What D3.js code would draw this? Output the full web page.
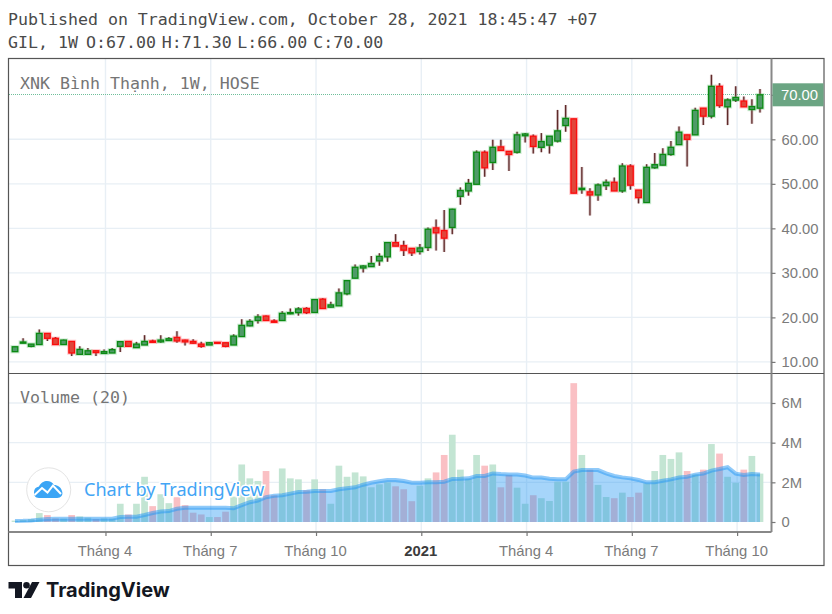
<!DOCTYPE html>
<html>
<head>
<meta charset="utf-8">
<script src="https://cdn.jsdelivr.net/npm/d3@7"></script>
<style>
  html, body { margin: 0; padding: 0; background: #fff; }
  svg { display: block; }
  .mono { font-family: "DejaVu Sans Mono", monospace; font-size: 16.6px; }
  .tick text { font-family: "Liberation Sans", Arial, sans-serif; }
</style>
</head>
<body>
<div id="chart"></div>
<script>
// weekly candles
var opens  = [12.3,14.2,13.5,13.9,16.4,15.3,13.9,14.6,11.7,11.7,12.5,11.9,12.0,13.5,14.6,13.2,13.8,14.7,14.5,14.8,15.5,14.9,14.6,14.0,13.8,14.4,14.3,13.8,15.7,18.1,19.3,20.3,19.2,19.3,20.8,21.06,22.0,21.1,24.1,22.3,22.6,25.3,28.8,31.1,31.4,32.7,33.6,36.8,36.1,35.5,34.8,35.7,40.1,39.5,40.2,47.2,48.4,49.9,57.1,54.8,58.3,57.3,57.1,60.8,60.7,58.2,58.7,59.6,63.1,64.6,48.7,48.2,47.5,49.6,50.35,48.4,54.0,48.6,45.8,53.6,54.2,56.6,58.8,61.0,61.0,67.0,65.2,71.9,67.3,68.8,68.6,66.7,67.0];
var highs  = [13.4,15.3,14.0,17.3,16.4,15.6,15.0,14.7,13.5,13.1,12.5,12.8,13.1,14.6,14.6,14.5,16.0,15.0,16.0,15.6,16.9,15.0,15.1,14.5,14.4,14.4,14.3,16.2,19.6,19.6,20.7,20.4,19.6,21.4,22.0,22.3,22.3,24.1,24.3,23.5,26.5,28.3,31.9,31.7,33.8,34.4,36.9,38.7,37.2,35.5,36.5,40.2,42.0,44.1,44.4,49.2,51.1,57.5,57.5,59.9,59.9,57.3,61.7,61.4,61.1,61.4,60.7,66.6,67.7,64.6,53.8,49.0,50.1,51.0,51.4,54.6,54.4,48.6,54.4,56.9,58.0,59.6,62.9,61.0,67.1,67.0,74.5,72.6,69.2,71.9,69.6,69.0,71.3];
var lows   = [12.3,14.2,13.3,13.9,14.7,13.9,13.9,11.3,11.6,11.6,11.3,11.9,12.0,12.2,13.4,13.2,13.8,14.3,14.3,14.8,14.3,13.7,14.1,13.2,13.8,14.2,13.3,13.8,15.7,18.0,18.6,19.3,18.9,19.3,20.7,20.4,20.75,21.1,21.9,22.2,22.6,25.0,28.8,30.1,31.4,31.6,32.5,36.0,33.8,33.8,34.1,34.9,35.0,34.7,38.7,45.3,47.35,49.9,51.6,53.1,57.5,52.9,56.8,59.3,56.8,57.1,56.8,59.3,61.7,47.9,47.8,42.9,46.2,48.6,48.4,48.0,48.7,45.6,45.8,53.4,54.2,56.3,58.8,53.9,61.0,63.2,64.7,67.1,63.2,68.4,67.3,63.5,66.0];
var closes = [13.4,14.47,14.0,16.4,15.3,13.9,14.9,12.0,12.8,12.5,12.1,12.3,12.75,14.55,13.5,14.0,14.6,14.4,14.9,15.2,14.7,14.5,14.2,13.5,14.3,14.2,13.5,15.8,18.2,19.1,20.1,19.3,18.9,20.9,21.06,21.9,21.06,24.0,22.0,22.8,25.5,28.25,31.25,31.55,32.1,33.7,36.8,36.0,35.1,34.5,35.6,39.8,39.0,37.8,44.3,48.5,50.1,57.1,53.6,58.2,57.5,56.6,61.0,61.2,58.4,59.5,60.7,61.9,64.7,47.9,49.0,47.5,49.75,50.35,48.4,54.0,49.7,46.9,53.7,54.3,56.6,58.2,61.6,60.0,66.5,65.2,71.9,67.6,68.85,69.4,67.3,67.35,70.0];
// volume in millions
var volumes = [0.07,0.1,0.15,0.45,0.35,0.18,0.17,0.35,0.28,0.22,0.15,0.18,0.17,0.92,0.38,0.92,2.28,0.8,1.4,0.95,1.25,0.85,0.47,0.38,0.25,0.25,0.52,1.28,2.9,2.2,2.07,2.57,1.35,2.7,2.2,2.15,1.6,2.15,1.65,0.92,2.84,2.28,2.5,2.3,1.75,1.9,2.0,1.8,1.65,1.05,1.83,2.2,2.5,3.38,4.4,2.64,2.18,3.38,2.84,2.9,1.75,2.37,1.73,0.92,1.35,1.2,1.06,2.03,2.03,7.0,3.38,2.64,1.87,1.26,1.2,1.48,1.26,1.48,1.95,2.57,3.38,3.18,3.51,2.57,2.4,2.64,3.93,3.45,2.28,1.98,2.64,3.33,2.44];
// Volume (20) average line as drawn, in millions
var volumeAvg = [0.05,0.06,0.08,0.12,0.15,0.16,0.16,0.17,0.17,0.17,0.17,0.17,0.17,0.25,0.27,0.27,0.35,0.45,0.53,0.55,0.67,0.72,0.72,0.72,0.72,0.72,0.72,0.69,0.85,1.0,1.08,1.25,1.32,1.35,1.43,1.51,1.53,1.56,1.56,1.56,1.65,1.7,1.75,1.88,1.98,2.05,2.12,2.12,2.07,1.98,1.98,2.0,2.0,2.03,2.17,2.18,2.2,2.32,2.32,2.45,2.42,2.4,2.4,2.34,2.24,2.24,2.18,2.15,2.15,2.54,2.62,2.62,2.62,2.45,2.32,2.25,2.2,2.12,2.0,2.0,2.08,2.15,2.24,2.28,2.39,2.44,2.59,2.67,2.76,2.44,2.37,2.42,2.39];

var priceTicks = [10, 20, 30, 40, 50, 60, 70];
var volumeTicks = [0, 2, 4, 6];
var timeTicks = [11, 24, 37, 50, 63, 76, 89];
var timeLabels = ["Tháng 4", "Tháng 7", "Tháng 10", "2021", "Tháng 4", "Tháng 7", "Tháng 10"];
var lastPrice = 70;
var ohlcLabels = ["GIL, 1W", "O:67.00", "H:71.30", "L:66.00", "C:70.00"];
var ohlcX = [8, 86, 161.7, 237.3, 313.3];

var width = 832, height = 614;
var svg = d3.select("#chart").append("svg").attr("width", width).attr("height", height);

var frame = { left: 8.5, top: 58.5, right: 824, bottom: 565.5 };
var axisX = 771.5, splitY = 373.5, axisY = 532;

var x = d3.scaleLinear().domain([0, 92]).range([15, 760]);
var y = d3.scaleLinear().domain([10, 70]).range([361.9, 94.8]);
var yVol = d3.scaleLinear().domain([0, 6]).range([522, 403]);
var gridShift = 1.4; // month lines sit a bit right of the candle centres

var gridColor = "#e8eff5";

//grid
var grid = svg.append("g").attr("stroke", gridColor).attr("stroke-width", 1.4);
grid.selectAll(".v").data(timeTicks).enter().append("line")
  .attr("x1", function (d) { return x(d) + gridShift; })
  .attr("x2", function (d) { return x(d) + gridShift; })
  .attr("y1", frame.top).attr("y2", axisY);
grid.selectAll(".p").data(priceTicks.slice(0, 6)).enter().append("line")
  .attr("x1", frame.left).attr("x2", axisX)
  .attr("y1", function (d) { return y(d); }).attr("y2", function (d) { return y(d); });
grid.selectAll(".q").data(volumeTicks.slice(1)).enter().append("line")
  .attr("x1", frame.left).attr("x2", axisX)
  .attr("y1", function (d) { return yVol(d); }).attr("y2", function (d) { return yVol(d); });

//last price line, kept on whole pixels so the dots stay crisp
var lastY = Math.floor(y(lastPrice)) + 0.5;
svg.append("line")
  .attr("x1", 9).attr("x2", axisX)
  .attr("y1", lastY).attr("y2", lastY)
  .attr("stroke", "#6fbf9a").attr("stroke-width", 1).attr("stroke-dasharray", "1,1");

var idx = d3.range(opens.length);
function isUp(i) { return closes[i] >= opens[i]; }

//volume bars, average area goes on top of them
var barW = 6.7;
svg.append("g").selectAll("rect").data(idx).enter().append("rect")
  .attr("x", function (i) { return x(i) - barW / 2; })
  .attr("width", barW)
  .attr("y", function (i) { return yVol(volumes[i]); })
  .attr("height", function (i) { return yVol(0) - yVol(volumes[i]); })
  .attr("fill", function (i) { return isUp(i) ? "#c3e5d3" : "#fac0c4"; });

var area = d3.area().x(function (i) { return x(i); }).y0(yVol(0)).y1(function (i) { return yVol(volumeAvg[i]); });
svg.append("path").datum(idx).attr("d", area).attr("fill", "rgba(33,150,243,0.4)");
var avgLine = d3.line().x(function (i) { return x(i); }).y(function (i) { return yVol(volumeAvg[i]); });
svg.append("path").datum(idx).attr("d", avgLine).attr("fill", "none")
  .attr("stroke", "rgba(33,150,243,0.5)").attr("stroke-width", 4);

//watermark
var mark = svg.append("g");
mark.append("circle").attr("cx", 48.7).attr("cy", 489.8).attr("r", 22)
  .attr("fill", "#fff").attr("stroke", "#e4e4e4").attr("stroke-width", 1);
mark.append("path")
  .attr("d", "M39 498 C35 498 34 495 34 492 C34 489 36 487 39 486.5 C41 482.5 44 481 47 481 C50 481 52.5 482.5 54 485 C58 485 61 487.5 62 491 C63.5 495 61 498 57 498 Z")
  .attr("fill", "#3ba5f5");
mark.append("path")
  .attr("d", "M34.5 495 L42 488 L47.5 492.5 L53 485.5 L61 494")
  .attr("fill", "none").attr("stroke", "#fff").attr("stroke-width", 2);
mark.append("text").attr("x", 84).attr("y", 495.5)
  .attr("font-family", "'Noto Sans', sans-serif").attr("font-size", 18.1)
  .attr("fill", "#42a5f5").attr("stroke", "#fff").attr("stroke-width", 3).attr("paint-order", "stroke")
  .text("Chart by TradingView");

//candles
var candleW = 5.6;
var wicks = svg.append("g");
wicks.selectAll(".halo").data(idx).enter().append("line")
  .attr("x1", function (i) { return x(i); }).attr("x2", function (i) { return x(i); })
  .attr("y1", function (i) { return y(highs[i]); }).attr("y2", function (i) { return y(lows[i]); })
  .attr("stroke", "rgba(130,70,70,0.3)").attr("stroke-width", 3);
wicks.selectAll(".core").data(idx).enter().append("line")
  .attr("x1", function (i) { return x(i); }).attr("x2", function (i) { return x(i); })
  .attr("y1", function (i) { return y(highs[i]); }).attr("y2", function (i) { return y(lows[i]); })
  .attr("stroke", "#5f2a2a").attr("stroke-width", 1.3);

var bodies = svg.append("g");
function bodyY(i) { return y(Math.max(opens[i], closes[i])); }
function bodyH(i) { return Math.max(1, Math.abs(y(opens[i]) - y(closes[i]))); }
bodies.selectAll(".glow").data(idx).enter().append("rect")
  .attr("x", function (i) { return x(i) - candleW / 2; }).attr("width", candleW)
  .attr("y", bodyY).attr("height", bodyH)
  .attr("fill", "none").attr("stroke-width", 3.4)
  .attr("stroke", function (i) { return isUp(i) ? "rgba(90,190,110,0.3)" : "rgba(255,80,90,0.3)"; });
bodies.selectAll(".body").data(idx).enter().append("rect")
  .attr("x", function (i) { return x(i) - candleW / 2; }).attr("width", candleW)
  .attr("y", bodyY).attr("height", bodyH)
  .attr("fill", function (i) { return isUp(i) ? "#4f9a68" : "#e0453a"; })
  .attr("stroke-width", 1.3)
  .attr("stroke", function (i) { return isUp(i) ? "#0a8a12" : "#fb0d0d"; });

//frame and pane lines
svg.append("rect").attr("x", frame.left).attr("y", frame.top)
  .attr("width", frame.right - frame.left).attr("height", frame.bottom - frame.top)
  .attr("fill", "none").attr("stroke", "#555").attr("stroke-width", 1.2);
svg.append("line").attr("x1", frame.left).attr("x2", frame.right).attr("y1", splitY).attr("y2", splitY)
  .attr("stroke", "#555").attr("stroke-width", 1.2);

//axes
function styleAxis(g) {
  g.select(".domain").attr("stroke", "#888").attr("stroke-width", 2);
  g.selectAll(".tick line").attr("stroke", "#777").attr("stroke-width", 1.2);
  g.selectAll(".tick text").attr("fill", "#7b7b7b").attr("font-size", 14.8);
}
var priceAxis = d3.axisRight(y).tickValues(priceTicks).tickFormat(d3.format(".2f")).tickSize(4).tickPadding(6).tickSizeOuter(0);
var gPrice = svg.append("g").attr("transform", "translate(" + axisX + ",0)").call(priceAxis).call(styleAxis);
gPrice.select(".domain").attr("d", "M0," + frame.top + "V" + splitY);

var volumeAxis = d3.axisRight(yVol).tickValues(volumeTicks)
  .tickFormat(function (d) { return d === 0 ? "0" : d + "M"; })
  .tickSize(4).tickPadding(6).tickSizeOuter(0);
var gVol = svg.append("g").attr("transform", "translate(" + axisX + ",0)").call(volumeAxis).call(styleAxis);
gVol.select(".domain").attr("d", "M0," + splitY + "V" + axisY);

var timeAxis = d3.axisBottom(x).tickValues(timeTicks)
  .tickFormat(function (d, i) { return timeLabels[i]; })
  .tickSize(4).tickPadding(9).tickSizeOuter(0);
var gTime = svg.append("g").attr("transform", "translate(" + gridShift + "," + axisY + ")").call(timeAxis).call(styleAxis);
gTime.select(".domain").attr("d", "M" + (frame.left - gridShift) + ",0H" + (axisX - gridShift));
gTime.selectAll(".tick text").attr("dx", -1);
gTime.selectAll(".tick text").filter(function (d, i) { return timeLabels[i] === "2021"; })
  .attr("font-weight", "bold").attr("fill", "#3c3c3c");

//last price tag
svg.append("rect").attr("x", axisX + 1).attr("y", y(lastPrice) - 11.5).attr("width", frame.right - axisX - 1.5).attr("height", 23)
  .attr("fill", "#6ba583");
svg.append("text").attr("x", 781).attr("y", y(lastPrice) + 5.3)
  .attr("font-family", "'Liberation Sans', Arial, sans-serif").attr("font-size", 14.8).attr("fill", "#fff")
  .text(d3.format(".2f")(lastPrice));

//texts
svg.append("text").attr("class", "mono").attr("x", 8).attr("y", 24.5).attr("fill", "#4a4a4a")
  .text("Published on TradingView.com, October 28, 2021 18:45:47 +07");
svg.append("g").selectAll("text").data(ohlcLabels).enter().append("text")
  .attr("class", "mono").attr("y", 47.5).attr("fill", "#4a4a4a")
  .attr("x", function (d, i) { return ohlcX[i]; })
  .text(function (d) { return d; });
svg.append("text").attr("class", "mono").attr("x", 20).attr("y", 89).attr("fill", "#757575")
  .text("XNK Bình Thạnh, 1W, HOSE");
svg.append("text").attr("class", "mono").attr("x", 20).attr("y", 403).attr("fill", "#757575")
  .text("Volume (20)");

//logo
var logo = svg.append("g").attr("fill", "#131722");
logo.append("path").attr("d", "M8.5 582H22V598H15V588.5H8.5Z");
logo.append("circle").attr("cx", 26.5).attr("cy", 585.3).attr("r", 3.3);
logo.append("path").attr("d", "M32 582H39.5L31 598H23.5Z");
logo.append("text").attr("x", 46).attr("y", 597)
  .attr("font-family", "Inter, sans-serif").attr("font-weight", 700).attr("font-size", 20)
  .text("TradingView");
</script>
</body>
</html>
